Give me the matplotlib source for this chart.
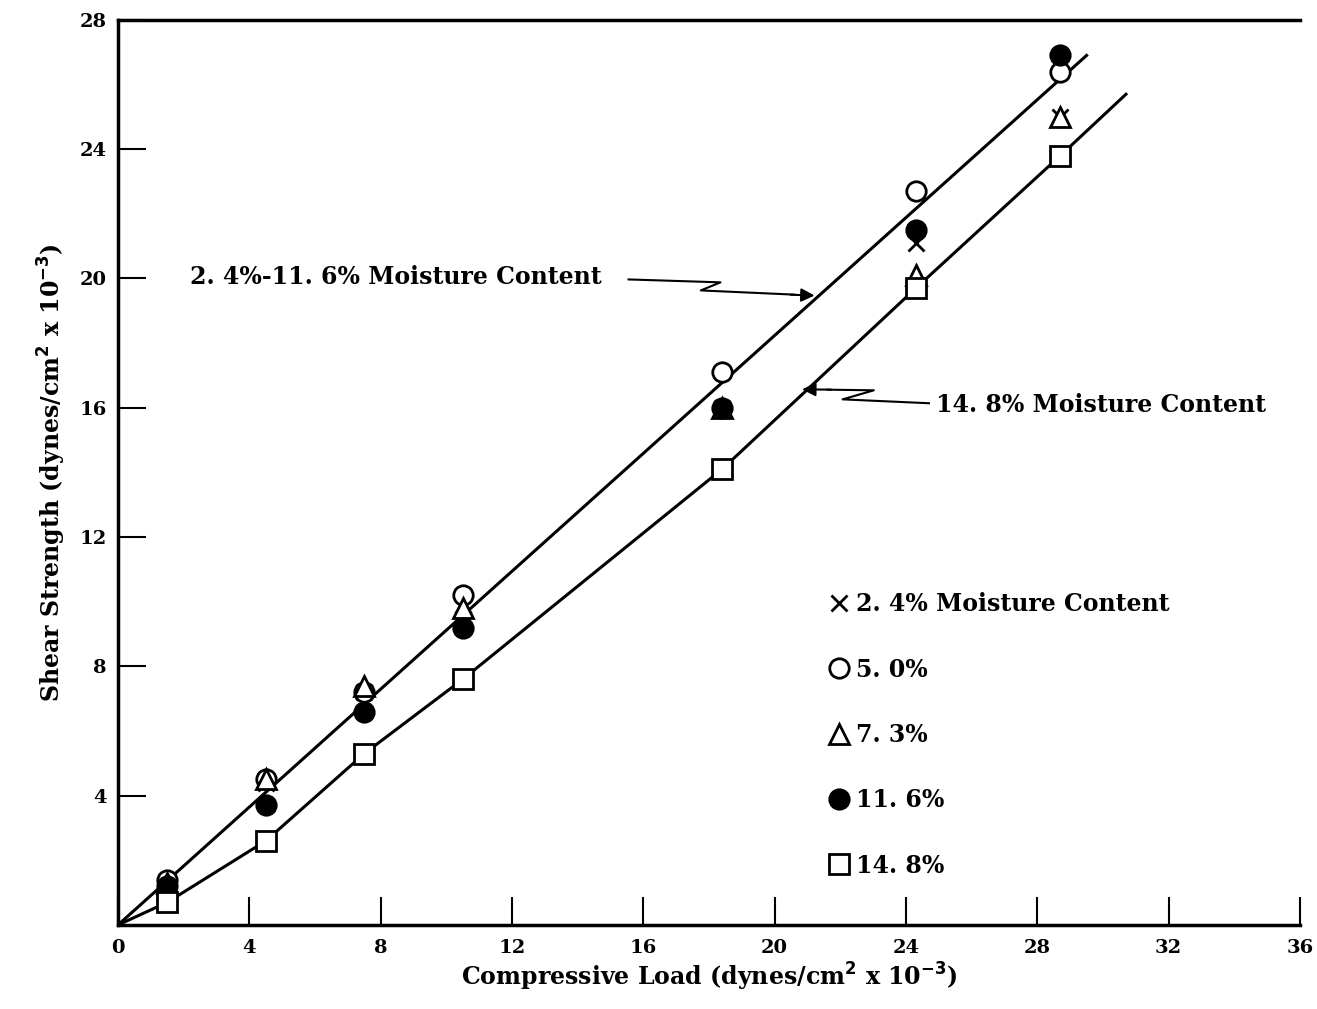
import matplotlib.pyplot as plt
from matplotlib.lines import Line2D

# compressive load values (dynes/cm^2 x 10^-3)
x_load = [1.5, 4.5, 7.5, 10.5, 18.4, 24.3, 28.7]

# shear strength per moisture content
mc_2_4 = [1.3, 4.4, 7.2, 9.9, 16.0, 21.1, 25.0]
mc_5_0 = [1.4, 4.5, 7.2, 10.2, 17.1, 22.7, 26.4]
mc_7_3 = [1.3, 4.5, 7.4, 9.8, 16.0, 20.1, 25.0]
mc_11_6 = [1.2, 3.7, 6.6, 9.2, 16.0, 21.5, 26.9]
mc_14_8 = [0.7, 2.6, 5.3, 7.6, 14.1, 19.7, 23.8]

# curves drawn through the data
upper_x = [0, 29.5]
upper_y = [0, 26.9]
lower_x = [0, 1.5, 4.5, 7.5, 10.5, 18.4, 24.3, 28.7, 30.7]
lower_y = [0, 0.7, 2.6, 5.3, 7.6, 14.1, 19.7, 23.8, 25.7]

xticks = [0, 4, 8, 12, 16, 20, 24, 28, 32, 36]
yticks = [4, 8, 12, 16, 20, 24, 28]

plt.rcParams['font.family'] = ['DejaVu Serif']
plt.rcParams['font.weight'] = 'bold'
plt.rcParams['mathtext.default'] = 'bf'

fig = plt.figure(figsize=(13.17, 10.09), dpi=100)
ax = fig.add_axes([0.0896, 0.0833, 0.8975, 0.897])

ax.plot(upper_x, upper_y, color='black', lw=2.2, zorder=2)
ax.plot(lower_x, lower_y, color='black', lw=2.2, zorder=2)

mk = dict(linestyle='none', color='black', markeredgewidth=2, zorder=3)
ax.plot(x_load, mc_2_4, marker='x', markersize=11, **mk)
ax.plot(x_load, mc_5_0, marker='o', markersize=14, markerfacecolor='white', **mk)
ax.plot(x_load, mc_7_3, marker='^', markersize=15, markerfacecolor='white', **mk)
ax.plot(x_load, mc_11_6, marker='o', markersize=14, markerfacecolor='black', **mk)
ax.plot(x_load, mc_14_8, marker='s', markersize=15, markerfacecolor='white', **mk)

# annotations with zigzag arrows
ax.text(2.2, 20.05, '2. 4%-11. 6% Moisture Content', fontsize=17, fontweight='bold',
        va='center', ha='left')
ax.plot([15.55, 18.35, 17.75, 20.6], [19.97, 19.88, 19.63, 19.5], color='black', lw=1.5)
ax.annotate('', xy=(21.3, 19.47), xytext=(20.4, 19.5),
            arrowprops=dict(arrowstyle='-|>', color='black', lw=1.5, mutation_scale=20))

ax.text(24.9, 16.1, '14. 8% Moisture Content', fontsize=17, fontweight='bold',
        va='center', ha='left')
ax.plot([24.7, 22.07, 23.02, 21.6], [16.14, 16.26, 16.54, 16.56], color='black', lw=1.5)
ax.annotate('', xy=(20.75, 16.57), xytext=(21.8, 16.56),
            arrowprops=dict(arrowstyle='-|>', color='black', lw=1.5, mutation_scale=20))

# legend
handles = [
    Line2D([], [], marker='x', markersize=11, **mk),
    Line2D([], [], marker='o', markersize=14, markerfacecolor='white', **mk),
    Line2D([], [], marker='^', markersize=15, markerfacecolor='white', **mk),
    Line2D([], [], marker='o', markersize=14, markerfacecolor='black', **mk),
    Line2D([], [], marker='s', markersize=15, markerfacecolor='white', **mk),
]
labels = ['2. 4% Moisture Content', '5. 0%', '7. 3%', '11. 6%', '14. 8%']
leg = ax.legend(handles, labels, loc='upper left', bbox_to_anchor=(0.582, 0.391),
                frameon=False, fontsize=17, labelspacing=1.75, handletextpad=0.2,
                handlelength=1.0)

ax.set_xlim(0, 36)
ax.set_ylim(0, 28)
ax.set_xticks(xticks)
ax.set_yticks(yticks)
ax.tick_params(direction='in', length=20, width=1.5, labelsize=14)
ax.tick_params(axis='x', pad=10)
ax.tick_params(axis='y', pad=8)
for lab in ax.get_xticklabels() + ax.get_yticklabels():
    lab.set_fontweight('bold')

ax.spines['right'].set_visible(False)
for s in ['left', 'bottom', 'top']:
    ax.spines[s].set_linewidth(2.5)

ax.set_xlabel('Compressive Load (dynes/cm$^{2}$ x 10$^{-3}$)',
              fontsize=17, fontweight='bold', labelpad=3)
ax.set_ylabel('Shear Strength (dynes/cm$^{2}$ x 10$^{-3}$)',
              fontsize=17, fontweight='bold', labelpad=8)

fig.savefig('out.png', dpi=100)
